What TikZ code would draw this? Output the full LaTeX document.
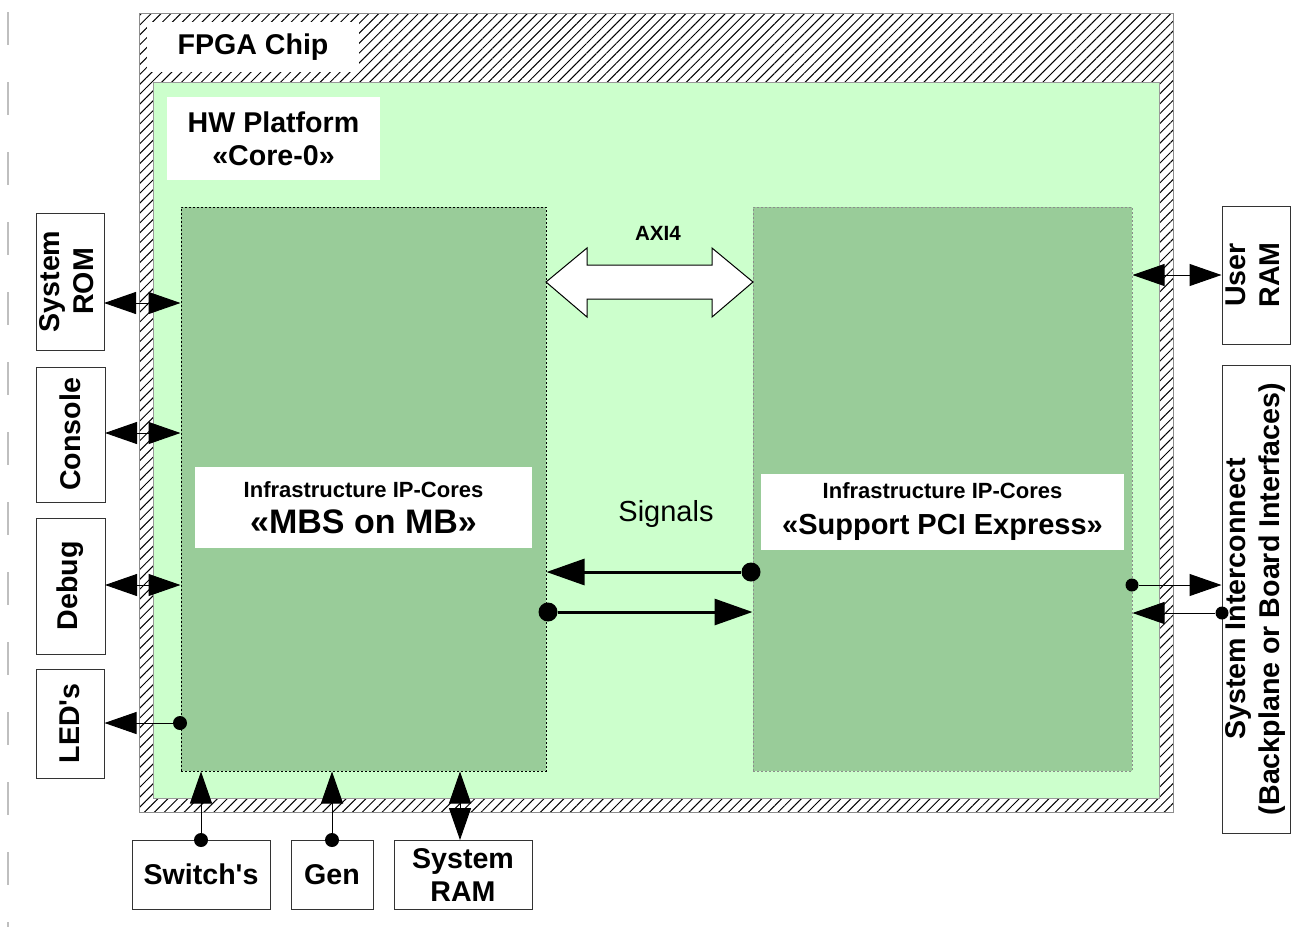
\documentclass[tikz,border=0pt]{standalone}
\usepackage{fontspec}
\setmainfont{Liberation Sans}
\usepackage{graphicx}
\usetikzlibrary{arrows.meta,patterns.meta}
\definecolor{lightg}{HTML}{CCFFCC}
\definecolor{darkg}{HTML}{99CC99}
\begin{document}
\begin{tikzpicture}[x=0.5pt,y=-0.5pt,
  every node/.style={font=\bfseries\fontsize{14.3}{17}\selectfont, inner sep=0pt},
  extbox/.style={draw=black!80, line width=0.5pt, fill=white},
  lbl/.style={fill=white, align=center},
  bigdot/.style={circle, fill=black, minimum size=9.5pt},
  smalldot/.style={circle, fill=black, minimum size=7pt},
  thinarr/.style={line width=0.5pt, -{Triangle[length=16pt,width=11pt]}},
  thindbl/.style={line width=0.5pt, {Triangle[length=16pt,width=11pt]}-{Triangle[length=16pt,width=11pt]}},
  sigarr/.style={line width=1.5pt, -{Triangle[length=19pt,width=13pt]}}
]
\useasboundingbox (0,0) rectangle (1311,927);
% left dashed margin line
\draw[black!25, line width=1pt, dash pattern=on 16.5pt off 18.5pt] (8,12) -- (8,927);

% FPGA chip
\node[draw=black!45, line width=0.5pt, pattern={Lines[angle=45,distance=3.5pt,line width=0.5pt]},
      minimum width=517pt, minimum height=399.5pt] (fpga) at (656,412.5) {};
\node[fill=white, minimum width=106pt, minimum height=25pt] (fpgalbl) at (253,47) {FPGA Chip};

% HW platform
\node[draw=black!40, line width=0.5pt, fill=lightg, minimum width=503pt, minimum height=358pt] (hw) at (656,440) {};
\node[lbl, font=\bfseries\fontsize{14.3}{16.5}\selectfont, minimum width=106.5pt, minimum height=41.5pt] (hwlbl) at (273.5,138.5) {HW Platform\\«Core-0»};

% IP-core blocks
\node[draw=black, line width=0.5pt, dash pattern=on 1pt off 1pt, fill=darkg, minimum width=182.5pt, minimum height=282pt] (mbs) at (363.5,489) {};
\node[draw=black!45, line width=0.5pt, dash pattern=on 1pt off 1pt, fill=darkg, minimum width=189.5pt, minimum height=282pt] (pci) at (942.5,489) {};
\node[lbl, minimum width=168.5pt, minimum height=40.5pt] (mbslbl) at (363.5,507.5)
  {{\fontsize{11}{13}\selectfont Infrastructure IP-Cores}\\[1pt]{\fontsize{17}{20}\selectfont «MBS on MB»}};
\node[lbl, minimum width=181.5pt, minimum height=38pt] (pcilbl) at (942.5,512)
  {{\fontsize{11}{13}\selectfont Infrastructure IP-Cores}\\[1pt]{\fontsize{14.5}{17}\selectfont «Support PCI Express»}};

% AXI4 block arrow
\coordinate (axl) at (546,282);
\coordinate (axr) at (753,282);
\draw[fill=white, line width=0.5pt] (axl) -- ++(41,-34) -- ++(0,17) -- ++(125,0) -- ++(0,-17) -- (axr)
  -- ++(-41,35) -- ++(0,-18) -- ++(-125,0) -- ++(0,18) -- cycle;
\node[font=\bfseries\fontsize{10.3}{12}\selectfont] (axi) at (658,233) {AXI4};

% Signals
\node[font=\mdseries\fontsize{14.5}{17}\selectfont] (sig) at (666,514) {Signals};
\node[bigdot] (s1) at (751,572) {};
\draw[sigarr] (s1) -- (s1 -| mbs.east);
\node[bigdot] (s2) at (548,612) {};
\draw[sigarr] (s2) -- (s2 -| pci.west);

% left external boxes
\node[extbox, minimum width=34pt, minimum height=68.5pt] (rom) at (70,281.5) {\rotatebox{90}{\begin{tabular}{@{}c@{}}System\\ROM\end{tabular}}};
\node[extbox, minimum width=34.5pt, minimum height=67.5pt] (console) at (70.5,434.5) {\rotatebox{90}{Console}};
\node[extbox, minimum width=34.5pt, minimum height=68pt] (debug) at (70.5,586) {\rotatebox{90}{Debug}};
\node[extbox, minimum width=34pt, minimum height=54.5pt] (leds) at (70,723.5) {\rotatebox{90}{LED\textquotesingle s}};

\coordinate (romy) at (104,303);
\draw[thindbl] (romy) -- (romy -| mbs.west);
\coordinate (cony) at (105,433);
\draw[thindbl] (cony) -- (cony -| mbs.west);
\coordinate (deby) at (105,585);
\draw[thindbl] (deby) -- (deby -| mbs.west);
\node[smalldot] (ledd) at (180,723) {};
\draw[thinarr] (ledd) -- (ledd -| leds.east);

% bottom external boxes
\node[extbox, minimum width=69pt, minimum height=34.5pt] (switch) at (201,874.5) {Switch\textquotesingle s};
\node[extbox, minimum width=41pt, minimum height=34.5pt] (gen) at (332,874.5) {Gen};
\node[extbox, minimum width=69pt, minimum height=34.5pt, align=center, font=\bfseries\fontsize{14.3}{16.5}\selectfont] (sysram) at (463,874.5) {System\\RAM};

\node[smalldot] (swd) at (201,840) {};
\draw[thinarr] (swd) -- (swd |- mbs.south);
\node[smalldot] (gend) at (332,840) {};
\draw[thinarr] (gend) -- (gend |- mbs.south);
\coordinate (sry) at (460,840);
\draw[thindbl] (sry) -- (sry |- mbs.south);

% right external boxes
\node[extbox, minimum width=34pt, minimum height=69pt] (uram) at (1256,275) {\rotatebox{90}{\begin{tabular}{@{}c@{}}User\\RAM\end{tabular}}};
\node[extbox, minimum width=34pt, minimum height=234pt] (sysint) at (1256,599) {\rotatebox{90}{\begin{tabular}{@{}c@{}}System Interconnect\\(Backplane or Board Interfaces)\end{tabular}}};

\draw[thindbl] (uram.west) -- (uram.west -| pci.east);
\node[smalldot, minimum size=6.5pt] (pcd) at (1132,585) {};
\draw[thinarr] (pcd) -- (pcd -| sysint.west);
\node[smalldot, minimum size=6.5pt] (sid) at (1222,613) {};
\draw[thinarr] (sid) -- (sid -| pci.east);
\end{tikzpicture}
\end{document}
